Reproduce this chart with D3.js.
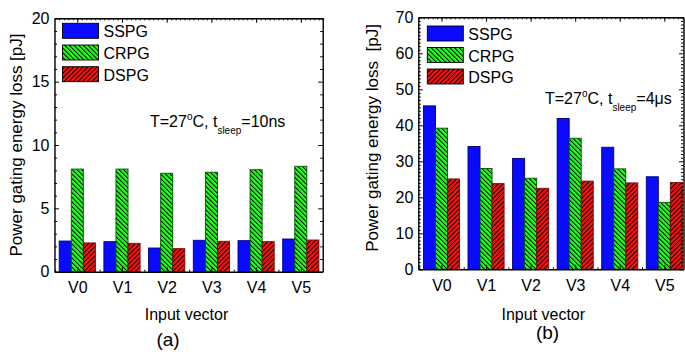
<!DOCTYPE html>
<html>
<head>
<meta charset="utf-8">
<script src="https://cdn.jsdelivr.net/npm/d3@7/dist/d3.min.js"></script>
<style>
  body { margin: 0; background: #fff; }
  svg { display: block; font-family: Arial, "Liberation Sans", sans-serif; }
  .axis path, .axis line { stroke: #000; }
  .axis path { stroke-width: 1.4; }
  .axis text { font-size: 16px; fill: #000; font-family: Arial, "Liberation Sans", sans-serif; }
</style>
</head>
<body>
<script>
//******************************************************************************
//**  Data
//******************************************************************************
var categories = ["V0", "V1", "V2", "V3", "V4", "V5"];
var seriesNames = ["SSPG", "CRPG", "DSPG"];

// (a) t_sleep = 10ns
var sspgA = [2.42, 2.37, 1.87, 2.48, 2.45, 2.58];
var crpgA = [8.10, 8.10, 7.77, 7.85, 8.05, 8.32];
var dspgA = [2.27, 2.24, 1.82, 2.40, 2.37, 2.50];

// (b) t_sleep = 4us
var sspgB = [45.4, 34.1, 30.8, 41.9, 33.9, 25.7];
var crpgB = [39.2, 28.0, 25.3, 36.4, 27.9, 18.6];
var dspgB = [25.1, 23.8, 22.5, 24.5, 24.0, 24.1];

var yTicksA = [0, 5, 10, 15, 20];
var yTicksB = [0, 10, 20, 30, 40, 50, 60, 70];


var svg = d3.select("body").append("svg")
    .attr("width", 685)
    .attr("height", 354);

//******************************************************************************
//**  Fill patterns
//******************************************************************************
var defs = svg.append("defs");
var addHatch = function(id, color, angle){
    var p = defs.append("pattern")
        .attr("id", id)
        .attr("patternUnits", "userSpaceOnUse")
        .attr("width", 3.3)
        .attr("height", 3.3)
        .attr("patternTransform", "rotate(" + angle + ")");
    p.append("rect").attr("width", 3.3).attr("height", 3.3).attr("fill", color);
    p.append("line")
        .attr("x1", 0.5).attr("y1", 0).attr("x2", 0.5).attr("y2", 3.3)
        .attr("stroke", "#000").attr("stroke-width", 1);
};
addHatch("hatchCR", "#22ff22", -45);
addHatch("hatchDS", "#ff1010", 45);

var fills = ["#0a0aff", "url(#hatchCR)", "url(#hatchDS)"];
var strokes = ["#00007a", "#0b4f0b", "#6a1010"];


//******************************************************************************
//**  drawPanel
//******************************************************************************
var drawPanel = function(cfg){
    var g = svg.append("g");

    var x = d3.scaleLinear().domain(cfg.xDomain).range([cfg.left, cfg.right]);
    var y = d3.scaleLinear().domain([0, cfg.yMax]).range([cfg.bottom, cfg.top]);

    var idx = d3.range(categories.length);
    var minorY = d3.range(0, cfg.yMax + 0.001, cfg.minor).filter(function(v){
        return cfg.yTicks.indexOf(v) < 0;
    });

  // bars
    var bw = 0.27;
    cfg.series.forEach(function(vals, k){
        g.selectAll(null)
          .data(vals)
          .enter()
          .append("rect")
          .attr("x", function(d, i){ return x(i + (k - 1.5) * bw); })
          .attr("y", function(d){ return y(d); })
          .attr("width", x(bw) - x(0))
          .attr("height", function(d){ return y(0) - y(d); })
          .attr("fill", fills[k])
          .attr("stroke", strokes[k])
          .attr("stroke-width", 0.9);
    });

  // minor ticks
    var minor = function(axis, tr, vals, size){
        g.append("g").attr("class", "axis")
          .attr("transform", tr)
          .call(axis.tickValues(vals).tickSize(-size).tickFormat("").tickSizeOuter(0))
          .call(function(s){ s.select(".domain").remove(); });
    };
    minor(d3.axisLeft(y), "translate(" + cfg.left + ",0)", minorY, 2.5);
    minor(d3.axisRight(y), "translate(" + cfg.right + ",0)", minorY, 2.5);
    minor(d3.axisTop(x), "translate(0," + cfg.top + ")",
        d3.range(-0.5, 5.51, 0.1).map(function(v){ return Math.round(v*10)/10; }), 2);
    minor(d3.axisBottom(x), "translate(0," + cfg.bottom + ")", [-0.5, 0.5, 1.5, 2.5, 3.5, 4.5], 2);

  // major axes
    g.append("g").attr("class", "axis")
      .attr("transform", "translate(" + cfg.left + ",0)")
      .call(d3.axisLeft(y).tickValues(cfg.yTicks).tickSize(-4.5).tickSizeOuter(0).tickPadding(5));
    g.append("g").attr("class", "axis")
      .attr("transform", "translate(" + cfg.right + ",0)")
      .call(d3.axisRight(y).tickValues(cfg.yTicks).tickSize(-4.5).tickSizeOuter(0).tickFormat(""));
    g.append("g").attr("class", "axis")
      .attr("transform", "translate(0," + cfg.top + ")")
      .call(d3.axisTop(x).tickValues(idx).tickSize(-4.5).tickSizeOuter(0).tickFormat(""));
    g.append("g").attr("class", "axis")
      .attr("transform", "translate(0," + cfg.bottom + ")")
      .call(d3.axisBottom(x).tickValues(idx).tickSize(-4.5).tickSizeOuter(0).tickPadding(10)
          .tickFormat(function(d){ return categories[d]; }));

  // legend
    seriesNames.forEach(function(name, k){
        var ly = cfg.legend.y + k * cfg.legend.step;
        g.append("rect")
          .attr("x", cfg.legend.x).attr("y", ly)
          .attr("width", 36).attr("height", 15)
          .attr("fill", fills[k])
          .attr("stroke", "#000").attr("stroke-width", 0.9);
        g.append("text")
          .attr("x", cfg.legend.x + 41).attr("y", ly + 14)
          .attr("font-size", 16)
          .text(name);
    });

  // annotation
    var t = g.append("text")
        .attr("x", cfg.anno.x).attr("y", cfg.anno.y)
        .attr("font-size", 16);
    t.append("tspan").text("T=27");
    t.append("tspan").attr("font-size", 10).attr("dy", -7).text("o");
    t.append("tspan").attr("dy", 7).text("C, t");
    t.append("tspan").attr("font-size", 10).attr("dy", 7).text("sleep");
    t.append("tspan").attr("dy", -7).text(cfg.anno.tail);

  // axis titles
    g.append("text")
      .attr("transform", "translate(" + cfg.ylab.x + "," + cfg.ylab.y + ") rotate(-90)")
      .attr("text-anchor", "middle")
      .attr("dy", "0.35em")
      .attr("font-size", 17)
      .style("white-space", "pre")
      .text(cfg.ylab.text);
    g.append("text")
      .attr("x", cfg.xlab.x).attr("y", cfg.xlab.y)
      .attr("text-anchor", "middle")
      .attr("font-size", 16)
      .text("Input vector");
    g.append("text")
      .attr("x", cfg.tag.x).attr("y", cfg.tag.y)
      .attr("text-anchor", "middle")
      .attr("font-size", 19)
      .text(cfg.tag.text);
};


drawPanel({
    left: 54.5, right: 322.7, top: 18.3, bottom: 271.7,
    xDomain: [-0.51, 5.49], yMax: 20, yTicks: yTicksA, minor: 1,
    series: [sspgA, crpgA, dspgA],
    legend: {x: 62.5, y: 23.3, step: 21.7},
    anno: {x: 150, y: 126.7, tail: "=10ns"},
    ylab: {x: 16, y: 145, text: "Power gating energy loss [pJ]"},
    xlab: {x: 186.5, y: 320},
    tag: {text: "(a)", x: 168, y: 346}
});

drawPanel({
    left: 418.3, right: 683.5, top: 17.3, bottom: 269.3,
    xDomain: [-0.52, 5.43], yMax: 70, yTicks: yTicksB, minor: 1,
    series: [sspgB, crpgB, dspgB],
    legend: {x: 427.3, y: 26, step: 21.5},
    anno: {x: 545, y: 104, tail: "=4\u03bcs"},
    ylab: {x: 372.5, y: 138, text: "Power gating energy loss  [pJ]"},
    xlab: {x: 543.3, y: 320},
    tag: {text: "(b)", x: 547.5, y: 339}
});
</script>
</body>
</html>
